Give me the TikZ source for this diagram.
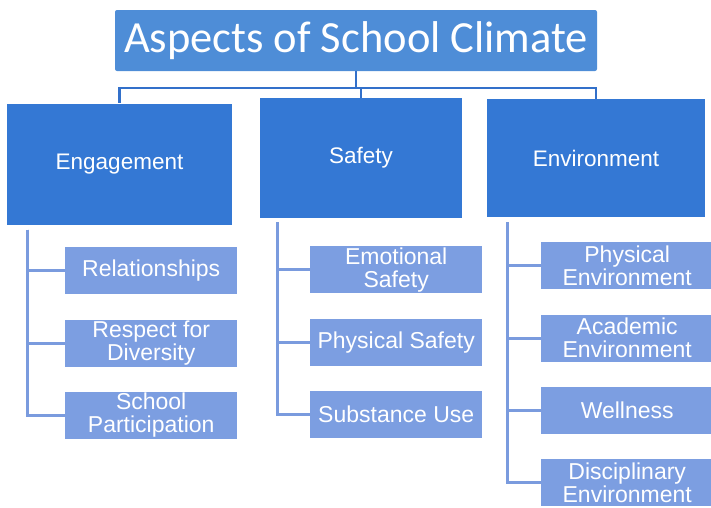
\documentclass[tikz,border=0pt]{standalone}
\usepackage{fontspec}
\setmainfont{Liberation Sans}
\newfontfamily\titlefont{Carlito}
\usetikzlibrary{positioning}
\definecolor{titleblue}{RGB}{78,141,215}
\definecolor{topicblue}{RGB}{52,120,212}
\definecolor{itemblue}{RGB}{124,158,225}
\definecolor{busblue}{RGB}{50,112,202}
\definecolor{linkblue}{RGB}{122,155,222}

\begin{document}
\begin{tikzpicture}
        [x=1pt, y=-1pt, node distance=25pt,
         head/.style={fill=titleblue, rounded corners=2pt, text=white, minimum width=482pt, minimum height=61pt, inner sep=0pt, font=\titlefont\fontsize{44.5}{44.5}\selectfont},
         topic/.style={fill=topicblue, text=white, minimum height=121pt, inner sep=0pt, font=\fontsize{22.5}{23}\selectfont},
         item/.style={fill=itemblue, text=white, minimum width=172pt, minimum height=47pt, inner sep=0pt, align=center, font=\fontsize{23}{23}\selectfont},
         bus/.style={draw=busblue, line width=2.5pt},
         link/.style={draw=linkblue, line width=3pt}]
        \useasboundingbox (0,0) rectangle (711,507);

        \node [head] (title) at (356,40.5) {Aspects of School Climate};

        \node [topic, minimum width=225pt] (eng) at (119.5,164) {Engagement};
        \node [topic, minimum width=202pt, minimum height=120pt] (saf) at (361,158) {Safety};
        \node [topic, minimum width=218pt, minimum height=118pt] (env) at (596,158) {Environment};

        \node [item, anchor=north west] (rel) at (65,247) {Relationships};
        \node [item] (div) [below =of rel] {Respect for\\Diversity};
        \node [item] (par) [below =of div] {School\\Participation};

        \node [item, anchor=north west] (emo) at (310,246) {Emotional\\Safety};
        \node [item] (phs) [below =of emo] {Physical Safety};
        \node [item] (sub) [below =of phs] {Substance Use};

        \node [item, anchor=north west] (pen) at (541,242) {Physical\\Environment};
        \node [item] (aca) [below =of pen] {Academic\\Environment};
        \node [item] (wel) [below =of aca] {Wellness};
        \node [item] (dis) [below =of wel] {Disciplinary\\Environment};

        \coordinate (hub) at (356,88);
        \draw [bus] (title.south) -- (hub);
        \draw [bus] (hub) -| (eng.north);
        \draw [bus] (hub) -| (saf.north);
        \draw [bus] (hub) -| (env.north);

        \foreach \kid in {rel,div,par}
            \draw [link] ([xshift=21pt,yshift=-5pt]eng.south west) |- (\kid.west);
        \foreach \kid in {emo,phs,sub}
            \draw [link] ([xshift=18pt,yshift=-4pt]saf.south west) |- (\kid.west);
        \foreach \kid in {pen,aca,wel,dis}
            \draw [link] ([xshift=21pt,yshift=-5pt]env.south west) |- (\kid.west);
\end{tikzpicture}
\end{document}
